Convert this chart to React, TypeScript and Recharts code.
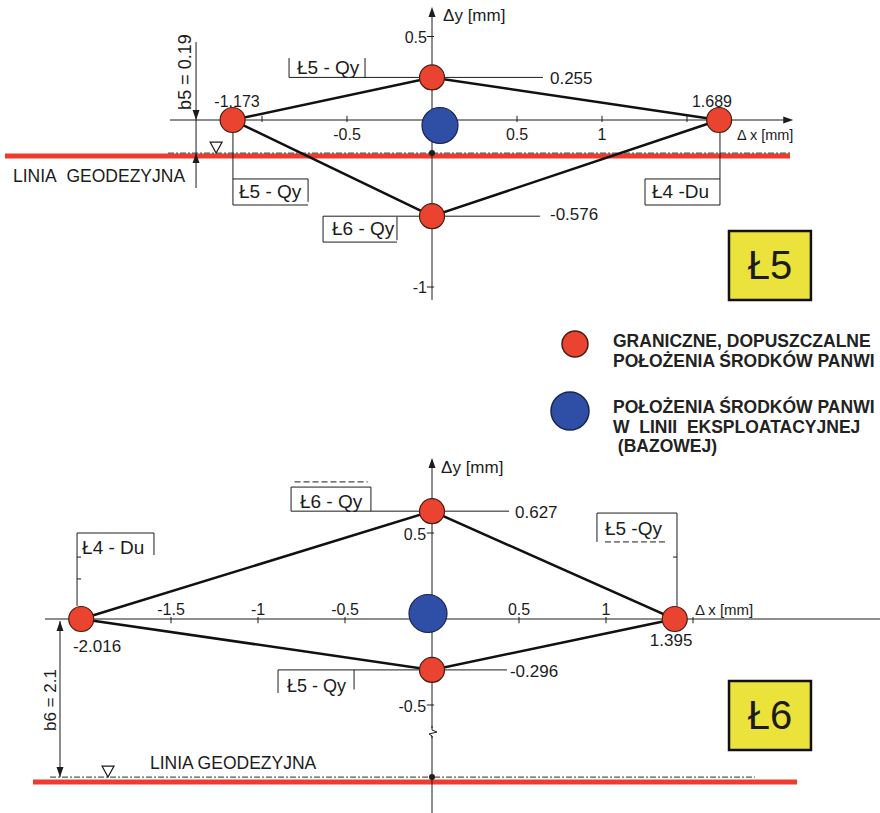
import React from 'react';
import { ScatterChart, Scatter, XAxis, YAxis, ReferenceLine, ReferenceDot, ReferenceArea } from 'recharts';

// Ł5 – limit positions of the bearing centres [mm]
const l5Limits = [
  { x: -1.173, y: 0 },
  { x: 0, y: 0.255 },
  { x: 1.689, y: 0 },
  { x: 0, y: -0.576 },
];
const l5Base = [{ x: 0.047, y: -0.033 }];
const l5Gap = 0.19;
const l5XTicks = [-1, -0.5, 0.5, 1, 1.5];
const l5XLabels = [-0.5, 0.5, 1];
const l5YTicks = [0.5, -1];

// Ł6
const l6Limits = [
  { x: -2.016, y: 0 },
  { x: 0, y: 0.627 },
  { x: 1.395, y: 0 },
  { x: 0, y: -0.296 },
];
const l6Base = [{ x: -0.023, y: 0.032 }];
const l6Gap = 2.1;
const l6XTicks = [-2, -1.5, -1, -0.5, 0.5, 1, 1.5];
const l6XLabels = [-1.5, -1, -0.5, 0.5, 1];
const l6YTicks = [0.5, -0.5];

const legendItems = [
  { color: 'red', lines: ['GRANICZNE, DOPUSZCZALNE', 'POŁOŻENIA ŚRODKÓW PANWI'] },
  { color: 'blue', lines: ['POŁOŻENIA ŚRODKÓW PANWI', 'W  LINII  EKSPLOATACYJNEJ', ' (BAZOWEJ)'] },
];

const FONT = 'Arial, "Liberation Sans", sans-serif';
const INK = '#1c1c1c';
const RED = '#ea4330';
const BLUE = '#2f4ea6';
const YELLOW = '#ece23c';
const GEO = '#ee3b2c';

const closed = (pts: { x: number; y: number }[]) => [...pts, pts[0]];

const redDot = (p: any) => <circle cx={p.cx} cy={p.cy} r={12.5} fill={RED} stroke="#4a1c14" strokeWidth={1.2} />;
const blueDot = (r: number) => (p: any) => <circle cx={p.cx} cy={p.cy} r={r} fill={BLUE} stroke="#1b2450" strokeWidth={1.2} />;
const noDot = () => <g />;

const seg = (k: string, x1: number, y1: number, x2: number, y2: number, w = 1, stroke = INK, dash?: string) => (
  <ReferenceLine
    key={k}
    segment={[{ x: x1, y: y1 }, { x: x2, y: y2 }]}
    stroke={stroke}
    strokeWidth={w}
    strokeDasharray={dash}
    ifOverflow="visible"
  />
);

const txt = (k: string, x: number, y: number, value: string, size = 17, anchor = 'start', extra: any = {}) => (
  <ReferenceDot
    key={k}
    x={x}
    y={y}
    r={0}
    ifOverflow="visible"
    shape={(p: any) => (
      <text x={p.cx} y={p.cy} fontSize={size} textAnchor={anchor} fill={INK} fontFamily={FONT} {...extra}>
        {value}
      </text>
    )}
  />
);

const vtxt = (k: string, x: number, y: number, value: string, size = 17) => (
  <ReferenceDot
    key={k}
    x={x}
    y={y}
    r={0}
    ifOverflow="visible"
    shape={(p: any) => (
      <text
        x={p.cx}
        y={p.cy}
        fontSize={size}
        textAnchor="middle"
        fill={INK}
        fontFamily={FONT}
        transform={`rotate(-90 ${p.cx} ${p.cy})`}
      >
        {value}
      </text>
    )}
  />
);

const mark = (k: string, x: number, y: number, kind: string) => (
  <ReferenceDot
    key={k}
    x={x}
    y={y}
    r={0}
    ifOverflow="visible"
    shape={(p: any) => {
      const { cx, cy } = p;
      if (kind === 'up') return <path d={`M${cx},${cy} L${cx - 3.5},${cy + 10} L${cx + 3.5},${cy + 10} Z`} fill={INK} />;
      if (kind === 'down') return <path d={`M${cx},${cy} L${cx - 3.5},${cy - 10} L${cx + 3.5},${cy - 10} Z`} fill={INK} />;
      if (kind === 'right') return <path d={`M${cx},${cy} L${cx - 10},${cy - 3.5} L${cx - 10},${cy + 3.5} Z`} fill={INK} />;
      if (kind === 'level')
        return <path d={`M${cx - 6},${cy - 11} L${cx + 6},${cy - 11} L${cx},${cy} Z`} fill="#fff" stroke={INK} strokeWidth={1.2} />;
      if (kind === 'dot') return <circle cx={cx} cy={cy} r={3} fill={INK} />;
      if (kind === 'zigzag')
        return (
          <path
            d={`M${cx},${cy - 6} L${cx},${cy - 2} L${cx + 5},${cy} L${cx - 3},${cy + 2} L${cx},${cy + 4} L${cx},${cy + 6}`}
            fill="none"
            stroke={INK}
            strokeWidth={1}
          />
        );
      return <g />;
    }}
  />
);

const fmt = (v: number) => v.toFixed(3);

const topMarks = [
  seg('geo', -2.512, -0.216, 2.106, -0.216, 5, GEO),
  seg('geoDash', -1.553, -0.198, 2.106, -0.198, 1.2, '#555', '6 2 2 2'),
  seg('yAxis', 0, -1.077, 0, 0.66),
  mark('yArrow', 0, 0.677, 'up'),
  seg('xAxis', -1.541, 0, 2.1, 0),
  mark('xArrow', 2.125, 0, 'right'),
  ...l5XTicks.map((t) => seg(`xt${t}`, t, -0.012, t, 0.025)),
  ...l5XLabels.map((t) => txt(`xl${t}`, t, -0.12, String(t), 16, 'middle')),
  ...l5YTicks.map((t) => seg(`yt${t}`, -0.03, t, 0.012, t)),
  ...l5YTicks.map((t) => txt(`yl${t}`, -0.03, t - 0.036, String(t), 16, 'end')),
  txt('yName', 0.065, 0.593, 'Δy [mm]', 17),
  txt('xName', 1.794, -0.12, 'Δ x [mm]', 14.5),
  // values
  txt('v0', -1.147, 0.08, fmt(l5Limits[0].x), 16, 'middle'),
  txt('v2', 1.647, 0.08, fmt(l5Limits[2].x), 16, 'middle'),
  seg('lead1', 0.075, l5Limits[1].y, 0.653, l5Limits[1].y),
  txt('v1', 0.694, 0.216, fmt(l5Limits[1].y), 17),
  seg('lead3', 0.075, l5Limits[3].y, 0.635, l5Limits[3].y),
  txt('v3', 0.694, -0.599, fmt(l5Limits[3].y), 17),
  // Ł5 - Qy (top)
  seg('b1a', -0.841, 0.255, -0.075, 0.255),
  seg('b1b', -0.841, 0.255, -0.841, 0.371),
  seg('b1c', -0.394, 0.255, -0.394, 0.371),
  txt('b1t', -0.794, 0.275, 'Ł5 - Qy', 19),
  // Ł6 - Qy
  seg('b2a', -0.641, -0.576, -0.075, -0.576),
  seg('b2b', -0.641, -0.576, -0.641, -0.731),
  seg('b2c', -0.206, -0.58, -0.206, -0.72),
  seg('b2d', -0.641, -0.731, -0.206, -0.731),
  txt('b2t', -0.588, -0.689, 'Ł6 - Qy', 19),
  // Ł5 - Qy (left)
  seg('b3a', -1.171, -0.077, -1.171, -0.509),
  seg('b3b', -1.171, -0.353, -0.729, -0.353),
  seg('b3c', -0.729, -0.353, -0.729, -0.49),
  seg('b3d', -1.171, -0.509, -0.729, -0.509),
  txt('b3t', -1.135, -0.467, 'Ł5 - Qy', 19),
  // Ł4 -Du
  seg('b4a', 1.694, -0.077, 1.694, -0.509),
  seg('b4b', 1.253, -0.353, 1.694, -0.353),
  seg('b4c', 1.253, -0.353, 1.253, -0.509),
  seg('b4d', 1.253, -0.509, 1.694, -0.509),
  txt('b4t', 1.294, -0.467, 'Ł4 -Du', 19),
  // b5 dimension
  seg('dim', -1.388, 0.467, -1.388, -0.407),
  mark('dimA', -1.388, 0, 'down'),
  mark('dimB', -1.388, -0.198, 'up'),
  vtxt('dimT', -1.418, 0.287, `b5 = ${l5Gap}`, 18),
  mark('lvl', -1.27, -0.198, 'level'),
  mark('o', 0, -0.198, 'dot'),
  txt('geoT', -2.465, -0.371, 'LINIA\u00a0\u00a0GEODEZYJNA', 17.5),
];

const bottomMarks = [
  seg('geo', -2.293, -0.948, 2.098, -0.948, 5, GEO),
  seg('geoDash', -2.195, -0.919, 1.856, -0.919, 1.2, '#555', '6 2 2 2'),
  seg('yAxisLow', 0, -1.128, 0, -0.68),
  mark('zz', 0, -0.657, 'zigzag'),
  seg('yAxis', 0, -0.634, 0, 0.924),
  mark('yArrow', 0, 0.936, 'up'),
  seg('xAxis', -2.224, 0, 2.575, 0),
  ...l6XTicks.map((t) => seg(`xt${t}`, t, -0.025, t, 0.012)),
  ...l6XLabels.map((t) => txt(`xl${t}`, t, 0.023, String(t), 16, 'middle')),
  ...l6YTicks.map((t) => seg(`yt${t}`, -0.03, t, 0.012, t)),
  ...l6YTicks.map((t) => txt(`yl${t}`, -0.034, t - 0.041, String(t), 16, 'end')),
  txt('yName', 0.052, 0.849, 'Δy [mm]', 17),
  txt('xName', 1.511, 0.023, 'Δ x [mm]', 15),
  // values
  txt('v0', -1.925, -0.192, fmt(l6Limits[0].x), 17, 'middle'),
  txt('v2', 1.374, -0.157, fmt(l6Limits[2].x), 17, 'middle'),
  seg('lead1', 0.075, l6Limits[1].y, 0.443, l6Limits[1].y),
  txt('v1', 0.477, 0.587, fmt(l6Limits[1].y), 17),
  seg('lead3', 0.075, l6Limits[3].y, 0.431, l6Limits[3].y),
  txt('v3', 0.448, -0.337, fmt(l6Limits[3].y), 17),
  // Ł6 - Qy
  seg('b1a', -0.81, 0.627, -0.075, 0.627),
  seg('b1b', -0.81, 0.627, -0.81, 0.767),
  seg('b1c', -0.81, 0.767, -0.351, 0.767),
  seg('b1d', -0.351, 0.767, -0.351, 0.627),
  seg('b1e', -0.79, 0.797, -0.37, 0.797, 1, INK, '6 3'),
  txt('b1t', -0.759, 0.645, 'Ł6 - Qy', 19),
  // Ł4 - Du
  seg('b2a', -2.04, 0.5, -2.04, 0.076),
  seg('b2b', -2.04, 0.5, -1.598, 0.5),
  seg('b2c', -1.598, 0.5, -1.598, 0.372),
  seg('b2d', -2.04, 0.36, -2.017, 0.36),
  seg('b2e', -2.04, 0.233, -2.017, 0.233),
  txt('b2t', -2.011, 0.378, 'Ł4 - Du', 19),
  // Ł5 -Qy (right)
  seg('b3a', 0.948, 0.616, 1.408, 0.616),
  seg('b3b', 0.948, 0.616, 0.948, 0.448),
  seg('b3c', 1.408, 0.616, 1.408, 0.075),
  seg('b3d', 0.994, 0.448, 1.35, 0.448, 1, INK, '6 3'),
  seg('b3e', 1.385, 0.36, 1.408, 0.36),
  txt('b3t', 0.994, 0.488, 'Ł5 -Qy', 19),
  // Ł5 - Qy (lower)
  seg('b4a', -0.885, -0.296, -0.075, -0.296),
  seg('b4b', -0.885, -0.296, -0.885, -0.43),
  seg('b4c', -0.448, -0.296, -0.448, -0.41),
  txt('b4t', -0.833, -0.424, 'Ł5 - Qy', 18),
  // b6 dimension (axis broken, not to scale)
  seg('dim', -2.138, -0.012, -2.138, -0.919),
  mark('dimA', -2.138, -0.012, 'up'),
  mark('dimB', -2.138, -0.919, 'down'),
  vtxt('dimT', -2.16, -0.471, `b6 = ${l6Gap}`, 17),
  mark('lvl', -1.862, -0.919, 'level'),
  mark('o', 0, -0.919, 'dot'),
  txt('geoT', -1.621, -0.872, 'LINIA GEODEZYJNA', 17.5),
];

const Diagram = ({ width, height, xDomain, yDomain, limits, base, baseR, marks, tag, tagBox, tagPos }: any) => (
  <ScatterChart width={width} height={height} margin={{ top: 0, right: 0, bottom: 0, left: 0 }}>
    <XAxis type="number" dataKey="x" domain={xDomain} allowDataOverflow hide />
    <YAxis type="number" dataKey="y" domain={yDomain} allowDataOverflow hide />
    <ReferenceArea
      x1={tagBox[0]}
      x2={tagBox[1]}
      y1={tagBox[2]}
      y2={tagBox[3]}
      fill={YELLOW}
      fillOpacity={1}
      stroke="#111"
      strokeWidth={2.5}
    />
    {txt('tag', tagPos[0], tagPos[1], tag, 40, 'middle', { dominantBaseline: 'central' })}
    {marks}
    <Scatter data={closed(limits)} line={{ stroke: '#111', strokeWidth: 2.5 }} lineJointType="linear" shape={noDot} isAnimationActive={false} />
    <Scatter data={limits} shape={redDot} isAnimationActive={false} />
    <Scatter data={base} shape={blueDot(baseR)} isAnimationActive={false} />
  </ScatterChart>
);

export default function App() {
  return (
    <div style={{ position: 'absolute', left: 0, top: 0, width: 880, height: 813, background: '#fff', fontFamily: FONT }}>
      <div style={{ position: 'absolute', left: 0, top: 0 }}>
        <Diagram
          width={880}
          height={310}
          xDomain={[-2.5412, 2.6353]}
          yDomain={[-1.1377, 0.7186]}
          limits={l5Limits}
          base={l5Base}
          baseR={18}
          marks={topMarks}
          tag="Ł5"
          tagBox={[1.747, 2.229, -1.078, -0.665]}
          tagPos={[1.988, -0.871]}
        />
      </div>
      <svg style={{ position: 'absolute', left: 540, top: 315 }} width={340} height={145}>
        {legendItems.map((item, i) => {
          const base = i === 0 ? 32 : 98;
          return (
            <g key={i}>
              <circle
                cx={i === 0 ? 35 : 30}
                cy={i === 0 ? 29 : 96}
                r={i === 0 ? 13 : 19}
                fill={item.color === 'red' ? RED : BLUE}
                stroke={item.color === 'red' ? '#4a1c14' : '#1b2450'}
                strokeWidth={1.5}
              />
              {item.lines.map((l, j) => (
                <text
                  key={j}
                  x={73}
                  y={base + j * 19.5}
                  fontSize={17.5}
                  fontWeight="bold"
                  fill="#222"
                  fontFamily={FONT}
                  style={{ whiteSpace: 'pre' }}
                >
                  {l}
                </text>
              ))}
            </g>
          );
        })}
      </svg>
      <div style={{ position: 'absolute', left: 0, top: 440 }}>
        <Diagram
          width={880}
          height={373}
          xDomain={[-2.4828, 2.5747]}
          yDomain={[-1.1279, 1.0407]}
          limits={l6Limits}
          base={l6Base}
          baseR={19}
          marks={bottomMarks}
          tag="Ł6"
          tagBox={[1.707, 2.178, -0.762, -0.36]}
          tagPos={[1.943, -0.561]}
        />
      </div>
    </div>
  );
}
